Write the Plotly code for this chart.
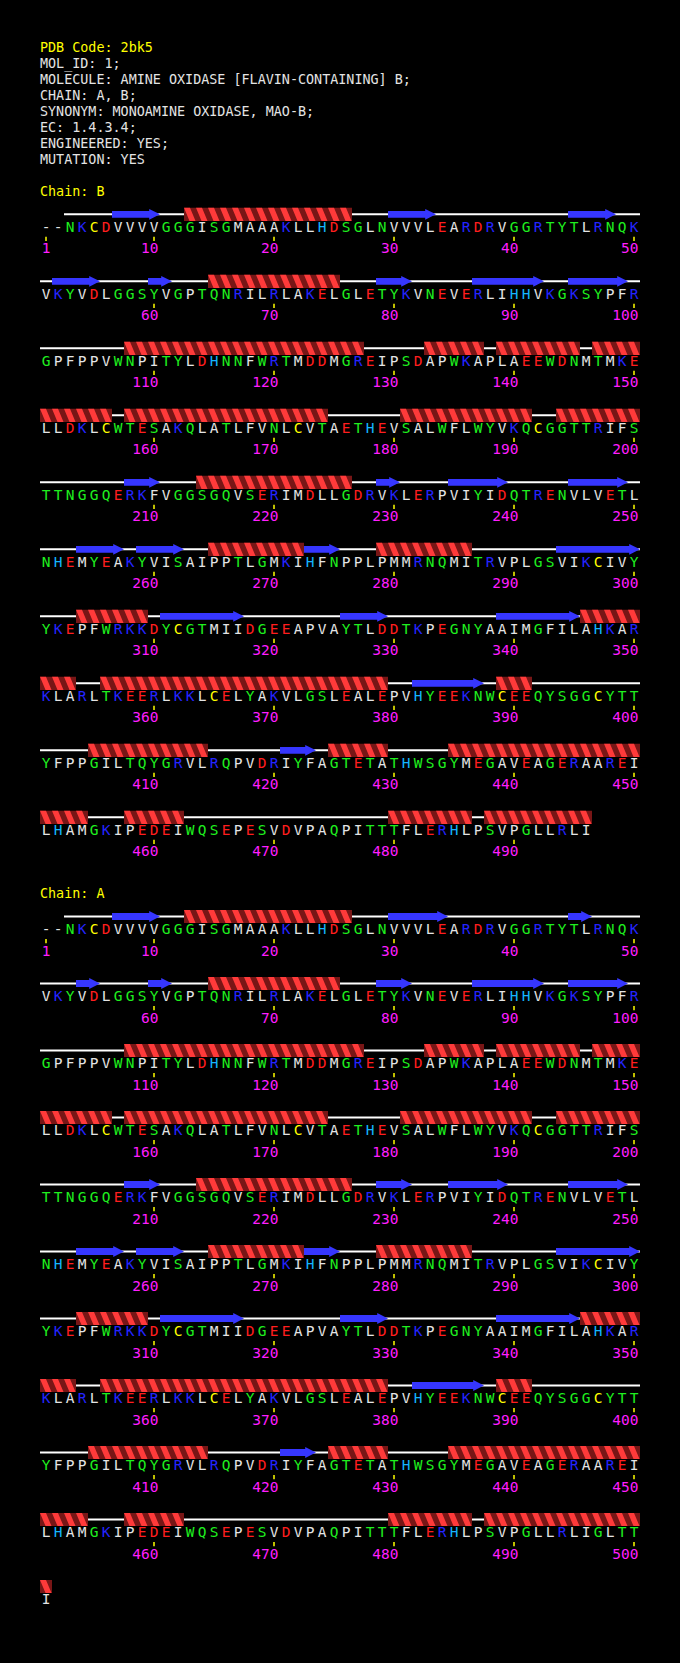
import plotly.graph_objects as go

# ---- data ----
HEADER = [
    "PDB Code: 2bk5",
    "MOL_ID: 1;",
    "MOLECULE: AMINE OXIDASE [FLAVIN-CONTAINING] B;",
    "CHAIN: A, B;",
    "SYNONYM: MONOAMINE OXIDASE, MAO-B;",
    "EC: 1.4.3.4;",
    "ENGINEERED: YES;",
    "MUTATION: YES",
]

# residues 1-501, "-" = not observed
SEQ = (
    "--NKCDVVVVGGGISGMAAAKLLHDSGLNVVVLEARDRVGGRTYTLRNQK"
    "VKYVDLGGSYVGPTQNRILRLAKELGLETYKVNEVERLIHHVKGKSYPFR"
    "GPFPPVWNPITYLDHNNFWRTMDDMGREIPSDAPWKAPLAEEWDNMTMKE"
    "LLDKLCWTESAKQLATLFVNLCVTAETHEVSALWFLWYVKQCGGTTRIFS"
    "TTNGGQERKFVGGSGQVSERIMDLLGDRVKLERPVIYIDQTRENVLVETL"
    "NHEMYEAKYVISAIPPTLGMKIHFNPPLPMMRNQMITRVPLGSVIKCIVY"
    "YKEPFWRKKDYCGTMIIDGEEAPVAYTLDDTKPEGNYAAIMGFILAHKAR"
    "KLARLTKEERLKKLCELYAKVLGSLEALEPVHYEEKNWCEEQYSGGCYTT"
    "YFPPGILTQYGRVLRQPVDRIYFAGTETATHWSGYMEGAVEAGERAAREI"
    "LHAMGKIPEDEIWQSEPESVDVPAQPITTTFLERHLPSVPGLLRLIGLTT"
    "I"
)

CHAIN_ORDER = ["B", "A"]
CHAIN_LAST = {"B": 496, "A": 501}

HELICES = {
    "B": [(13, 26), (65, 75), (108, 127), (133, 137), (139, 145), (147, 156),
          (158, 174), (181, 191), (194, 200), (214, 226), (265, 272), (279, 286),
          (304, 309), (346, 353), (356, 379), (389, 391), (405, 414), (425, 429),
          (435, 454), (458, 462), (480, 486), (488, 496)],
    "A": [(13, 26), (65, 75), (108, 127), (133, 137), (139, 145), (147, 156),
          (158, 174), (181, 191), (194, 200), (214, 226), (265, 272), (279, 286),
          (304, 309), (346, 353), (356, 379), (389, 391), (405, 414), (425, 429),
          (435, 454), (458, 462), (480, 486), (488, 501)],
}
STRANDS = {
    "B": [(7, 10), (30, 33), (45, 48), (52, 55), (60, 61), (79, 81), (87, 92),
          (95, 99), (208, 210), (229, 230), (235, 239), (245, 249), (254, 257),
          (259, 262), (273, 275), (294, 300), (311, 317), (326, 329), (339, 345),
          (382, 387), (421, 423)],
    "A": [(7, 10), (30, 34), (45, 46), (54, 55), (60, 61), (79, 81), (87, 92),
          (95, 99), (208, 210), (229, 231), (235, 239), (245, 249), (254, 257),
          (259, 262), (273, 275), (294, 300), (311, 317), (326, 329), (339, 345),
          (382, 387), (421, 423)],
}

RES_COLOURS = {
    "white": "AVLIMPF-",
    "green": "GSTNQYW",
    "blue": "KR",
    "cyan": "H",
    "red": "DE",
    "yellow": "C",
}
PALETTE = {
    "white": "#e4e4e4", "green": "#1fef1f", "blue": "#2424ff",
    "cyan": "#14b4ff", "red": "#ff1e1e", "yellow": "#ffff00",
}

# ---- layout constants (pixels on y, residue columns on x) ----
W, H = 680, 1663
PER_ROW = 50
ROW_H = 67.0
HEAD_Y, HEAD_DY = 48.3, 16.0
LABEL_Y = {"B": 192.3, "A": 895.0}
FIRST_ROW_Y = {"B": 228.3, "A": 930.5}
SS_DY = -14.0
FONT = "DejaVu Sans Mono"

colour_of = {}
for name, letters in RES_COLOURS.items():
    for ch in letters:
        colour_of[ch] = PALETTE[name]


def pos(chain, n):
    row = (n - 1) // PER_ROW
    col = (n - 1) % PER_ROW
    return col, FIRST_ROW_Y[chain] + row * ROW_H


def segments(s, e):
    # split a residue range into pieces that stay on one row
    out = []
    n = s
    while n <= e:
        row_end = ((n - 1) // PER_ROW + 1) * PER_ROW
        m = min(e, row_end)
        out.append((n, m, m == e))
        n = m + 1
    return out


fig = go.Figure()

# header text
fig.add_trace(go.Scatter(
    x=[-0.5] * len(HEADER),
    y=[HEAD_Y + i * HEAD_DY for i in range(len(HEADER))],
    text=HEADER, mode="text", textposition="middle right",
    textfont=dict(family=FONT, size=13.4,
                  color=["#ffff00"] + ["#e4e4e4"] * (len(HEADER) - 1)),
    hoverinfo="skip", showlegend=False,
))

for chain in CHAIN_ORDER:
    last = CHAIN_LAST[chain]
    first_seen = SEQ.index(next(c for c in SEQ if c != "-")) + 1

    fig.add_trace(go.Scatter(
        x=[-0.5], y=[LABEL_Y[chain]], text=["Chain: " + chain],
        mode="text", textposition="middle right",
        textfont=dict(family=FONT, size=13.4, color="#ffff00"),
        hoverinfo="skip", showlegend=False,
    ))

    # coil backbone, one line per row
    cx, cy = [], []
    for s, e, _ in segments(first_seen, last):
        c0, y0 = pos(chain, s)
        c1, _ = pos(chain, e)
        cx += [c0 - 0.5, c1 + 0.5, None]
        cy += [y0 + SS_DY] * 2 + [None]
    fig.add_trace(go.Scatter(x=cx, y=cy, mode="lines",
                             line=dict(color="#ffffff", width=2),
                             hoverinfo="skip", showlegend=False))

    # helices: dark band + bright slanted stripes
    dx, dy, bx, by = [], [], [], []
    for hs, he in HELICES[chain]:
        for s, e, _ in segments(hs, he):
            c0, y0 = pos(chain, s)
            c1, _ = pos(chain, e)
            yc = y0 + SS_DY
            top, bot = yc - 6.6, yc + 6.6
            dx += [c0 - 0.5, c1 + 0.5, c1 + 0.5, c0 - 0.5, c0 - 0.5, None]
            dy += [top, top, bot, bot, top, None]
            for c in range(c0, c1 + 1):
                x0 = c - 0.5
                bx += [x0, x0 + 0.5, x0 + 0.96, x0 + 0.46, x0, None]
                by += [top, top, bot, bot, top, None]
    fig.add_trace(go.Scatter(x=dx, y=dy, mode="lines", fill="toself",
                             fillcolor="#781616", line=dict(width=0),
                             hoverinfo="skip", showlegend=False))
    fig.add_trace(go.Scatter(x=bx, y=by, mode="lines", fill="toself",
                             fillcolor="#ff3a3a", line=dict(width=0),
                             hoverinfo="skip", showlegend=False))

    # strands: arrows
    sx, sy = [], []
    for ss, se in STRANDS[chain]:
        for s, e, is_end in segments(ss, se):
            c0, y0 = pos(chain, s)
            c1, _ = pos(chain, e)
            yc = y0 + SS_DY
            x0, tip = c0 - 0.5, c1 + 0.5
            if is_end:
                xh = tip - 0.9
                sx += [x0, xh, xh, tip, xh, xh, x0, x0, None]
                sy += [yc - 3.4, yc - 3.4, yc - 5.4, yc, yc + 5.4, yc + 3.4,
                       yc + 3.4, yc - 3.4, None]
            else:
                sx += [x0, tip, tip, x0, x0, None]
                sy += [yc - 3.4, yc - 3.4, yc + 3.4, yc + 3.4, yc - 3.4, None]
    fig.add_trace(go.Scatter(x=sx, y=sy, mode="lines", fill="toself",
                             fillcolor="#3636ff", line=dict(width=0),
                             hoverinfo="skip", showlegend=False))

    # residue letters
    rx, ry, rt, rc = [], [], [], []
    for n in range(1, last + 1):
        c, y = pos(chain, n)
        ch = SEQ[n - 1]
        rx.append(c)
        ry.append(y)
        rt.append(ch)
        rc.append(colour_of[ch])
    fig.add_trace(go.Scatter(x=rx, y=ry, text=rt, mode="text",
                             textposition="middle center",
                             textfont=dict(family=FONT, size=14.5, color=rc),
                             hoverinfo="skip", showlegend=False))

    # tick marks and residue numbers
    marks = [1] + list(range(10, last + 1, 10))
    tx, ty, nx, ny, nt = [], [], [], [], []
    for n in marks:
        c, y = pos(chain, n)
        tx += [c, c, None]
        ty += [y + 8.5, y + 12.8, None]
        nx.append(c + 0.37)
        ny.append(y + 21.5)
        nt.append(str(n))
    fig.add_trace(go.Scatter(x=tx, y=ty, mode="lines",
                             line=dict(color="#ffff00", width=1.5),
                             hoverinfo="skip", showlegend=False))
    fig.add_trace(go.Scatter(x=nx, y=ny, text=nt, mode="text",
                             textposition="middle left",
                             textfont=dict(family=FONT, size=14.5, color="#ff1eff"),
                             hoverinfo="skip", showlegend=False))

# x in residue columns (12 px each, first column centred at 46 px); y in pixels
COL_PX = 12.0
x_lo = -46.0 / COL_PX
fig.update_xaxes(range=[x_lo, x_lo + W / COL_PX], visible=False, fixedrange=True)
fig.update_yaxes(range=[H, 0], visible=False, fixedrange=True)
fig.update_layout(
    width=W, height=H,
    margin=dict(l=0, r=0, t=0, b=0),
    paper_bgcolor="#000000", plot_bgcolor="#000000",
    showlegend=False,
)

fig.write_html(
    "out.html",
    config={"displayModeBar": False, "staticPlot": True},
    post_script="document.body.style.margin='0';document.body.style.background='#000';",
)
